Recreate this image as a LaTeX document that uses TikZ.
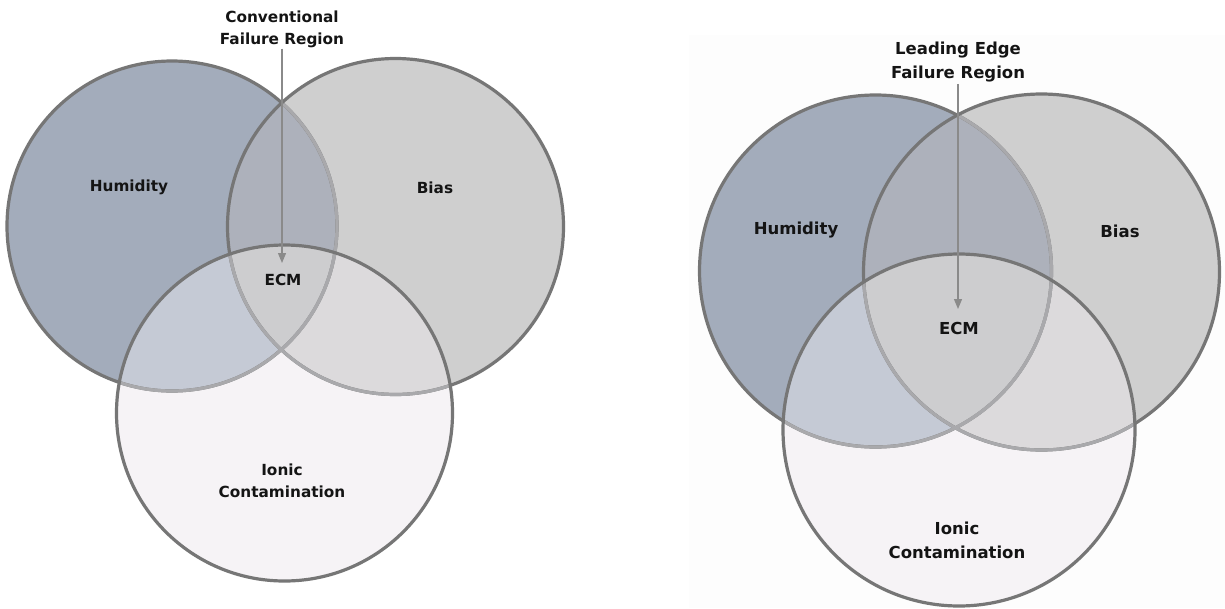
\documentclass[tikz,border=0pt]{standalone}
\usepackage{fontspec}
\setmainfont{DejaVu Sans}
\usetikzlibrary{arrows.meta}
\definecolor{humcol}{HTML}{A3ACBB}
\definecolor{biascol}{HTML}{CFCFCF}
\definecolor{ioncol}{HTML}{F6F3F6}
\definecolor{hbcol}{HTML}{ADB1BB}
\definecolor{hicol}{HTML}{C5CAD5}
\definecolor{bicol}{HTML}{DCDADC}
\definecolor{allcol}{HTML}{CDCDCF}
\definecolor{darkedge}{HTML}{767676}
\definecolor{lightedge}{HTML}{A9A9AC}
\definecolor{arrowcol}{HTML}{8A8A8A}
\definecolor{bgfaint}{HTML}{FDFDFD}
\tikzset{
  dk/.style={draw=darkedge,line width=3.2pt},
  lt/.style={draw=lightedge,line width=3.2pt},
  lblA/.style={font=\fontsize{15.3}{22}\selectfont\bfseries,text=black!92,align=center,inner sep=1pt},
  lblB/.style={font=\fontsize{16.5}{24}\selectfont\bfseries,text=black!92,align=center,inner sep=1pt},
  pointer/.style={draw=arrowcol,line width=1.2pt,-{Triangle[length=10pt,width=8pt]}}
}
\newcommand\myvenn[9]{%
  \fill[humcol] (#1,#2) circle[radius=#3];
  \fill[biascol] (#4,#5) circle[radius=#6];
  \fill[ioncol] (#7,#8) circle[radius=#9];
  \begin{scope}
    \clip (#1,#2) circle[radius=#3];
    \fill[hbcol] (#4,#5) circle[radius=#6];
    \fill[hicol] (#7,#8) circle[radius=#9];
  \end{scope}
  \begin{scope}
    \clip (#4,#5) circle[radius=#6];
    \fill[bicol] (#7,#8) circle[radius=#9];
  \end{scope}
  \begin{scope}
    \clip (#1,#2) circle[radius=#3];
    \clip (#4,#5) circle[radius=#6];
    \fill[allcol] (#7,#8) circle[radius=#9];
  \end{scope}
  \draw[dk] (#1,#2) circle[radius=#3];
  \begin{scope}
    \clip (#4,#5) circle[radius=#6];
    \draw[lt] (#1,#2) circle[radius=#3];
  \end{scope}
  \draw[dk] (#4,#5) circle[radius=#6];
  \begin{scope}
    \clip (#7,#8) circle[radius=#9];
    \draw[lt] (#1,#2) circle[radius=#3];
    \draw[lt] (#4,#5) circle[radius=#6];
  \end{scope}
  \draw[dk] (#7,#8) circle[radius=#9];
}
\begin{document}
\begin{tikzpicture}[x=1pt,y=-1pt]
\useasboundingbox (0,0) rectangle (1225,608);
\fill[white] (0,0) rectangle (1225,608);
\fill[bgfaint] (689,35) rectangle (1225,608);

% left diagram
\myvenn{172}{226}{165}{395.5}{226.5}{168}{284.5}{413}{168}
\node[lblA] (titleA) at (282,29) {Conventional\\Failure Region};
\node[lblA] (humA) at (129,187) {Humidity};
\node[lblA] (biasA) at (435,188) {Bias};
\node[lblA] (ecmA) at (283,280) {ECM};
\node[lblA] (ionA) at (282,481) {Ionic\\Contamination};
\coordinate (tipA) at (282,263);
\draw[pointer] (titleA.south) -- (tipA);

% right diagram
\myvenn{875.5}{271}{176}{1041.5}{272}{178}{959}{430}{176}
\node[lblB] (titleB) at (958,62.5) {Leading Edge\\Failure Region};
\node[lblB] (humB) at (796,230) {Humidity};
\node[lblB] (biasB) at (1120,231) {Bias};
\node[lblB] (ecmB) at (959,328) {ECM};
\node[lblB] (ionB) at (957,540) {Ionic\\Contamination};
\coordinate (tipB) at (958,309);
\draw[pointer] (titleB.south) -- (tipB);
\end{tikzpicture}
\end{document}
